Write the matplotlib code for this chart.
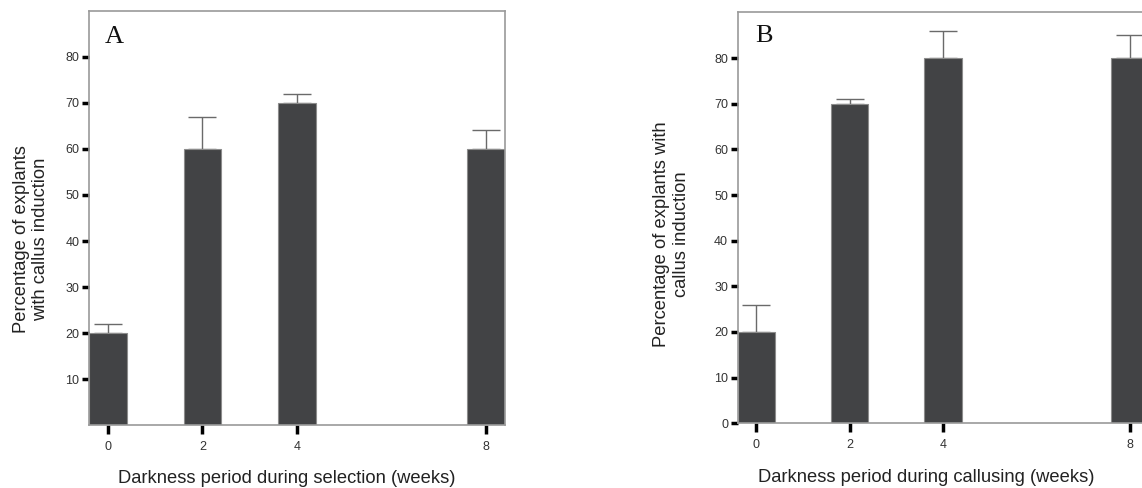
import numpy as np
import matplotlib
matplotlib.use("Agg")
import matplotlib.pyplot as plt

plt.rcParams['font.family'] = ['Liberation Sans', 'DejaVu Sans']

# darkness period (weeks)
weeks = [0, 2, 4, 8]

# panel A: darkness during selection
pct_a = [20, 60, 70, 60]
err_a = [2, 7, 2, 4]

# panel B: darkness during callusing
pct_b = [20, 70, 80, 80]
err_b = [6, 1, 6, 5]

bar_color = "#424345"
edge_color = "#8c8c8c"
spine_color = "#9a9a9a"
err_color = "#6a6a6a"

fig = plt.figure(figsize=(11.42, 4.88), dpi=100)
ax_a = fig.add_axes([0.0779, 0.1283, 0.3643, 0.8498])
ax_b = fig.add_axes([0.646, 0.1326, 0.3596, 0.842])


def draw_panel(ax, vals, errs, yticks, letter, ylab, xlab, ylab_pos, xlab_pos, letter_pos):
    ax.bar(weeks, vals, width=0.8, color=bar_color, edgecolor=edge_color, linewidth=0.8, zorder=2)
    ax.errorbar(weeks, vals, yerr=[np.zeros(len(errs)), errs], fmt="none",
                ecolor=err_color, elinewidth=1.0, capsize=10, capthick=1.0, zorder=1)
    ax.set_xlim(-0.4, 8.4)
    ax.set_ylim(0, 90)
    ax.set_xticks(weeks)
    ax.set_yticks(yticks)
    for s in ax.spines.values():
        s.set_color(spine_color)
        s.set_linewidth(1.2)
    ax.tick_params(axis="both", direction="out", color="black", width=2.5,
                   labelsize=9, labelcolor="#333333")
    ax.tick_params(axis="y", length=5, pad=2)
    ax.tick_params(axis="x", length=6.5, pad=5)
    ax.text(ylab_pos[0], ylab_pos[1], ylab, transform=ax.transAxes, rotation=90,
            ha="center", va="center", multialignment="center", fontsize=13.2, color="#222222")
    ax.text(xlab_pos[0], xlab_pos[1], xlab, transform=ax.transAxes,
            ha="center", va="center", fontsize=13.2, color="#222222")
    ax.text(letter_pos[0], letter_pos[1], letter, transform=ax.transAxes,
            family="Liberation Serif", fontsize=19, ha="left", va="baseline", color="#111111")


draw_panel(ax_a, pct_a, err_a, [10, 20, 30, 40, 50, 60, 70, 80], "A",
           "Percentage of explants\nwith callus induction",
           "Darkness period during selection (weeks)",
           (-0.139, 0.449), (0.476, -0.127), (0.038, 0.922))

draw_panel(ax_b, pct_b, err_b, [0, 10, 20, 30, 40, 50, 60, 70, 80], "B",
           "Percentage of explants with\ncallus induction",
           "Darkness period during callusing (weeks)",
           (-0.162, 0.46), (0.458, -0.133), (0.042, 0.928))

fig.savefig("out.png", dpi=100)
